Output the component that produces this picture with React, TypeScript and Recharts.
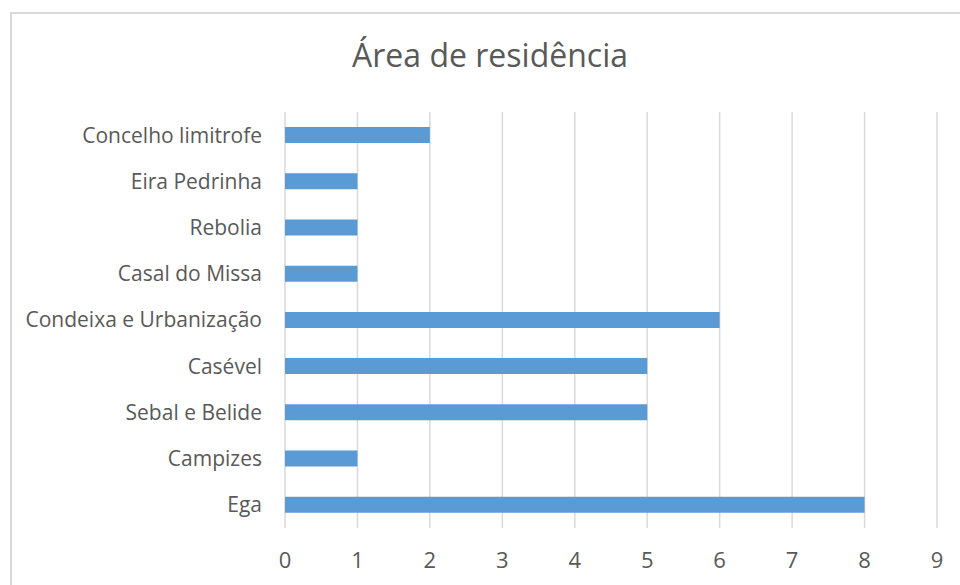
import React from 'react';
import { BarChart, Bar, XAxis, YAxis, CartesianGrid } from 'recharts';

const categories = [
  'Concelho limitrofe',
  'Eira Pedrinha',
  'Rebolia',
  'Casal do Missa',
  'Condeixa e Urbanização',
  'Casével',
  'Sebal e Belide',
  'Campizes',
  'Ega',
];
const counts = [2, 1, 1, 1, 6, 5, 5, 1, 8];
const xTicks = [0, 1, 2, 3, 4, 5, 6, 7, 8, 9];

const data = categories.map((name, i) => ({ name, value: counts[i] }));

const FONT = "'Open Sans', sans-serif";
const TEXT = '#595959';

export default function App() {
  return (
    <div
      style={{
        position: 'absolute',
        left: 0,
        top: 0,
        width: 960,
        height: 585,
        overflow: 'hidden',
        background: '#fff',
        fontFamily: FONT,
      }}
    >
      <div
        style={{
          position: 'absolute',
          left: 10,
          top: 12,
          width: 1000,
          height: 700,
          border: '2px solid #d9d9d9',
        }}
      />
      <div
        style={{
          position: 'absolute',
          left: 240,
          width: 500,
          top: 35,
          textAlign: 'center',
          fontSize: 32,
          color: TEXT,
          lineHeight: '40px',
        }}
      >
        Área de residência
      </div>
      <div style={{ position: 'absolute', left: 0, top: 0 }}>
        <BarChart
          width={960}
          height={585}
          data={data}
          layout="vertical"
          margin={{ top: 112, right: 23, bottom: 0, left: 0 }}
        >
          <CartesianGrid horizontal={false} stroke="#d9d9d9" strokeWidth={1.5} />
          <XAxis
            type="number"
            domain={[0, 9]}
            ticks={xTicks}
            axisLine={false}
            tickLine={false}
            height={57}
            tickMargin={18}
            tick={{ fill: TEXT, fontSize: 22, fontFamily: FONT }}
          />
          <YAxis
            type="category"
            dataKey="name"
            width={285}
            axisLine={false}
            tickLine={false}
            tickMargin={17}
            interval={0}
            tick={{ fill: TEXT, fontSize: 21, fontFamily: FONT }}
          />
          <Bar dataKey="value" fill="#5b9bd5" barSize={16} isAnimationActive={false} />
        </BarChart>
      </div>
    </div>
  );
}
